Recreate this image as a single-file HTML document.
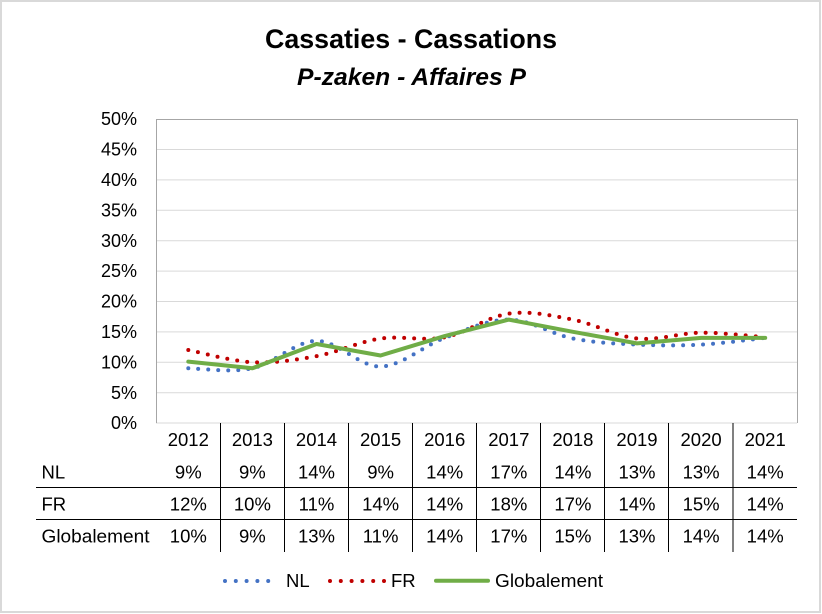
<!DOCTYPE html>
<html>
<head>
<meta charset="utf-8">
<style>
html,body{margin:0;padding:0;background:#fff;}
svg{display:block;}
text{font-family:"Liberation Sans",Arial,sans-serif;fill:#000;}
</style>
</head>
<body>
<svg width="822" height="614" viewBox="0 0 822 614" xmlns="http://www.w3.org/2000/svg">
<rect x="0" y="0" width="822" height="614" fill="#fff"/>
<rect x="1" y="1" width="819" height="611" fill="none" stroke="#d9d9d9" stroke-width="2"/>

<!-- Titles -->
<text x="411" y="48" font-size="27" font-weight="bold" text-anchor="middle" textLength="292" lengthAdjust="spacingAndGlyphs">Cassaties - Cassations</text>
<text x="411.5" y="85" font-size="24" font-weight="bold" font-style="italic" text-anchor="middle" textLength="229" lengthAdjust="spacingAndGlyphs">P-zaken - Affaires P</text>

<!-- gridlines -->
<g stroke="#d9d9d9" stroke-width="1">
<line x1="156" y1="149.5" x2="797" y2="149.5"/>
<line x1="156" y1="179.9" x2="797" y2="179.9"/>
<line x1="156" y1="210.3" x2="797" y2="210.3"/>
<line x1="156" y1="240.7" x2="797" y2="240.7"/>
<line x1="156" y1="271.1" x2="797" y2="271.1"/>
<line x1="156" y1="301.5" x2="797" y2="301.5"/>
<line x1="156" y1="331.9" x2="797" y2="331.9"/>
<line x1="156" y1="362.3" x2="797" y2="362.3"/>
<line x1="156" y1="392.7" x2="797" y2="392.7"/>
<line x1="156" y1="423" x2="797" y2="423"/>
</g>
<!-- plot border -->
<path d="M156.5,423 L156.5,119.5 L797.5,119.5 L797.5,423" fill="none" stroke="#a6a6a6" stroke-width="1"/>

<!-- y labels -->
<g font-size="18" text-anchor="end">
<text x="137" y="125">50%</text>
<text x="137" y="155.5">45%</text>
<text x="137" y="186">40%</text>
<text x="137" y="216.5">35%</text>
<text x="137" y="247">30%</text>
<text x="137" y="277">25%</text>
<text x="137" y="307.5">20%</text>
<text x="137" y="338">15%</text>
<text x="137" y="368.5">10%</text>
<text x="137" y="399">5%</text>
<text x="137" y="429">0%</text>
</g>

<!-- table lines -->
<g stroke="#000" stroke-width="1">
<line x1="36" y1="487.5" x2="797" y2="487.5"/>
<line x1="36" y1="519.5" x2="797" y2="519.5"/>
<line x1="220.5" y1="423" x2="220.5" y2="552"/>
<line x1="284.5" y1="423" x2="284.5" y2="552"/>
<line x1="348.5" y1="423" x2="348.5" y2="552"/>
<line x1="412.5" y1="423" x2="412.5" y2="552"/>
<line x1="476.5" y1="423" x2="476.5" y2="552"/>
<line x1="540.5" y1="423" x2="540.5" y2="552"/>
<line x1="604.5" y1="423" x2="604.5" y2="552"/>
<line x1="668.5" y1="423" x2="668.5" y2="552"/>
<line x1="733" y1="423" x2="733" y2="552"/>
</g>

<!-- table text -->
<g font-size="18.5" text-anchor="middle">
<text x="188.3" y="446">2012</text><text x="252.4" y="446">2013</text><text x="316.5" y="446">2014</text><text x="380.6" y="446">2015</text><text x="444.7" y="446">2016</text><text x="508.8" y="446">2017</text><text x="572.9" y="446">2018</text><text x="637" y="446">2019</text><text x="701.1" y="446">2020</text><text x="765.2" y="446">2021</text>
<text x="188.3" y="478.3">9%</text><text x="252.4" y="478.3">9%</text><text x="316.5" y="478.3">14%</text><text x="380.6" y="478.3">9%</text><text x="444.7" y="478.3">14%</text><text x="508.8" y="478.3">17%</text><text x="572.9" y="478.3">14%</text><text x="637" y="478.3">13%</text><text x="701.1" y="478.3">13%</text><text x="765.2" y="478.3">14%</text>
<text x="188.3" y="510.5">12%</text><text x="252.4" y="510.5">10%</text><text x="316.5" y="510.5">11%</text><text x="380.6" y="510.5">14%</text><text x="444.7" y="510.5">14%</text><text x="508.8" y="510.5">18%</text><text x="572.9" y="510.5">17%</text><text x="637" y="510.5">14%</text><text x="701.1" y="510.5">15%</text><text x="765.2" y="510.5">14%</text>
<text x="188.3" y="542.5">10%</text><text x="252.4" y="542.5">9%</text><text x="316.5" y="542.5">13%</text><text x="380.6" y="542.5">11%</text><text x="444.7" y="542.5">14%</text><text x="508.8" y="542.5">17%</text><text x="572.9" y="542.5">15%</text><text x="637" y="542.5">13%</text><text x="701.1" y="542.5">14%</text><text x="765.2" y="542.5">14%</text>
</g>
<g font-size="18.5">
<text x="41.5" y="478.3">NL</text>
<text x="41.5" y="510.5">FR</text>
<text x="41.5" y="542.5" textLength="108" lengthAdjust="spacingAndGlyphs">Globalement</text>
</g>

<!-- series -->
<path d="M188.3,368.3 C199.0,368.3 231.0,372.9 252.4,368.3 C273.8,363.7 295.1,341.2 316.5,340.9 C337.9,340.6 359.2,367.0 380.6,366.5 C402.0,366.0 423.3,345.7 444.7,337.9 C466.1,330.1 487.4,319.5 508.8,319.6 C530.2,319.7 551.5,334.3 572.9,338.5 C594.3,342.7 615.6,343.6 637.0,344.6 C658.4,345.6 679.7,345.7 701.1,344.6 C722.5,343.5 754.5,339.0 765.2,337.9" fill="none" stroke="#4472C4" stroke-width="4" stroke-linecap="round" stroke-dasharray="0 10"/>
<path d="M188.3,350.0 C199.0,352.0 231.0,361.2 252.4,362.2 C273.8,363.2 295.1,360.1 316.5,356.1 C337.9,352.2 359.2,341.6 380.6,338.5 C402.0,335.4 423.3,341.5 444.7,337.3 C466.1,333.2 487.4,316.6 508.8,313.6 C530.2,310.7 551.5,315.5 572.9,319.6 C594.3,323.8 615.6,336.3 637.0,338.5 C658.4,340.7 679.7,332.9 701.1,332.7 C722.5,332.5 754.5,336.5 765.2,337.3" fill="none" stroke="#C00000" stroke-width="4" stroke-linecap="round" stroke-dasharray="0 10"/>
<polyline points="188.3,361.6 252.4,368.3 316.5,344.0 380.6,355.5 444.7,336.1 508.8,319.6 572.9,331.8 637.0,343.4 701.1,337.9 765.2,337.9" fill="none" stroke="#70AD47" stroke-width="4" stroke-linejoin="round" stroke-linecap="round"/>

<!-- legend -->
<line x1="225" y1="581" x2="279" y2="581" stroke="#4472C4" stroke-width="4" stroke-linecap="round" stroke-dasharray="0 10.8"/>
<text x="286" y="587" font-size="18.5">NL</text>
<line x1="330" y1="581" x2="384" y2="581" stroke="#C00000" stroke-width="4" stroke-linecap="round" stroke-dasharray="0 10.8"/>
<text x="391" y="587" font-size="18.5">FR</text>
<line x1="436" y1="580.7" x2="488" y2="580.7" stroke="#70AD47" stroke-width="4" stroke-linecap="round"/>
<text x="495" y="587" font-size="18.5" textLength="108" lengthAdjust="spacingAndGlyphs">Globalement</text>
</svg>
</body>
</html>
